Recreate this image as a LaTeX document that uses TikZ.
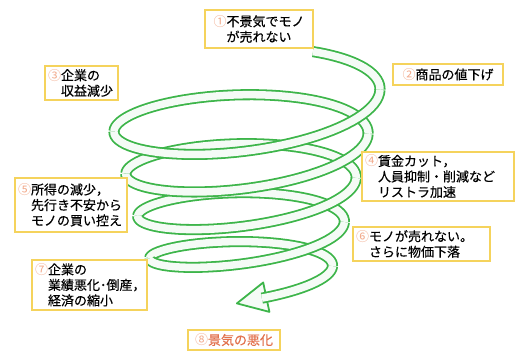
\documentclass[tikz,border=0pt]{standalone}
\usepackage{fontspec}
\newfontfamily\jp[FakeBold=0.35]{Noto Sans CJK JP}
\newfontfamily\jpn{Noto Sans CJK JP}
\definecolor{rib}{HTML}{3DB54A}
\definecolor{boxy}{HTML}{F5D35C}
\definecolor{numc}{HTML}{F2A98A}
\definecolor{orng}{HTML}{E2714C}
\newcommand\spiralseg[2]{\draw[ribbon] plot[domain=#1:#2, samples=45, variable=\t] ({244+(136-0.033*\t)*cos(\t)}, {100+0.12*\t+(42-0.016*\t)*sin(\t)-0.075*(136-0.033*\t)*cos(\t)});}
\newcommand\nm[1]{{\jpn\color{numc}#1}}
\begin{document}
\begin{tikzpicture}[x=1pt,y=-1pt,
  ribbon/.style={draw=rib, line width=1.8pt, double=rib!5, double distance=7.5pt},
  lbl/.style={draw=boxy, line width=1.5pt, fill=white, inner sep=3pt, font=\jp\fontsize{13}{15.5}\selectfont},
  lblL/.style={lbl, align=left},
  lblC/.style={lbl, align=center}]
\useasboundingbox (0,0) rectangle (517,352);
% back halves
\draw[ribbon] plot[domain=-60:0, samples=20, variable=\t] ({244+(136-0.033*\t)*cos(\t)}, {100+0.1*\t+(42-0.016*\t)*sin(\t)-0.075*(136-0.033*\t)*cos(\t)});
\spiralseg{1260}{1440}
\spiralseg{900}{1080}
\spiralseg{540}{720}
\spiralseg{180}{360}
% arrow head
\draw[draw=rib, line width=1.8pt, fill=rib!5, line join=round] (263.2,282.5) -- (236.9,303.4) -- (269.4,311.9) -- cycle;
% front halves
\spiralseg{1440}{1518}
\spiralseg{1080}{1260}
\spiralseg{720}{900}
\spiralseg{360}{540}
\spiralseg{0}{180}
% labels
\node[lblC, minimum width=108pt, minimum height=38pt] (n1) at (259,29) {\nm{①}不景気でモノ\\が売れない};
\node[lblC, minimum width=110pt, minimum height=21pt] (n2) at (448,74.5) {\nm{②}商品の値下げ};
\node[lblL, text width=67pt, minimum height=30pt] (n3) at (81.5,83) {\nm{③}企業の\\\phantom{③}収益減少};
\node[lblL, text width=146pt, minimum height=47pt] (n4) at (438,176.5) {\nm{④}賃金カット，\\\phantom{④}人員抑制・削減など\\\phantom{④}リストラ加速};
\node[lblL, text width=106pt, minimum height=54pt] (n5) at (71,205) {\nm{⑤}所得の減少，\\\phantom{⑤}先行き不安から\\\phantom{⑤}モノの買い控え};
\node[lblL, text width=131pt, minimum height=32pt] (n6) at (421.5,244) {\nm{⑥}モノが売れない。\\\phantom{⑥}さらに物価下落};
\node[lblL, text width=109pt, minimum height=50pt] (n7) at (89.5,285) {\nm{⑦}企業の\\\phantom{⑦}業績悪化･倒産，\\\phantom{⑦}経済の縮小};
\node[lblC, minimum width=92pt, minimum height=20pt, text=orng] (n8) at (234,340) {\nm{⑧}景気の悪化};
\end{tikzpicture}
\end{document}
